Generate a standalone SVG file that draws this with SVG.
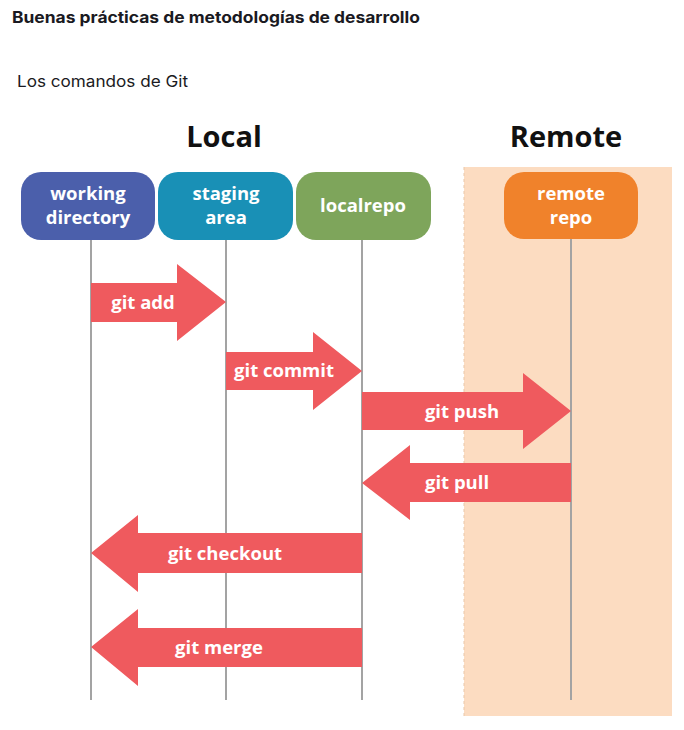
<svg xmlns="http://www.w3.org/2000/svg" width="684" height="730" viewBox="0 0 684 730">
<style>
.hdr{font-family:Inter,"Noto Sans",sans-serif;fill:#1a1a22}
.title{font-family:"Open Sans","Noto Sans",sans-serif;font-weight:700;font-size:29px;fill:#111;text-anchor:middle}
.nt{font-family:"Open Sans","Noto Sans",sans-serif;font-weight:700;font-size:18.5px;fill:#fff;text-anchor:middle}
.at{font-family:"Open Sans","Noto Sans",sans-serif;font-weight:700;font-size:18.5px;fill:#fff;text-anchor:middle}
.lane{stroke:#a3a3a3;stroke-width:2;fill:none}
.arr{fill:#ef5a5e}
</style>
<rect width="684" height="730" fill="#fff"/>
<text class="hdr" x="12" y="23" font-size="16" font-weight="700" textLength="408" lengthAdjust="spacingAndGlyphs">Buenas prácticas de metodologías de desarrollo</text>
<text class="hdr" x="17" y="87" font-size="16" font-weight="400" textLength="171" lengthAdjust="spacingAndGlyphs">Los comandos de Git</text>

<g id="remote-zone">
<rect x="464" y="167" width="208" height="549" fill="#fcdcc1"/>
<line x1="464" y1="167" x2="464" y2="716" stroke="#e9c7a9" stroke-width="1" stroke-dasharray="3,3"/>
</g>
<text class="title" x="224" y="147">Local</text>
<text class="title" x="566" y="147">Remote</text>

<g id="connectors">
<line class="lane" x1="91" y1="240" x2="91" y2="700"/>
<line class="lane" x1="226" y1="240" x2="226" y2="700"/>
<line class="lane" x1="362" y1="240" x2="362" y2="700"/>
<line class="lane" x1="571" y1="239" x2="571" y2="700"/>
</g>

<g id="working-directory">
<rect x="21" y="172" width="134" height="68" rx="20" fill="#4b5fab"/>
<text class="nt" x="88" y="200">working</text>
<text class="nt" x="88" y="224">directory</text>
</g>
<g id="staging-area">
<rect x="158" y="172" width="135" height="68" rx="20" fill="#1990b6"/>
<text class="nt" x="226" y="200">staging</text>
<text class="nt" x="226" y="224">area</text>
</g>
<g id="localrepo">
<rect x="296" y="172" width="135" height="68" rx="20" fill="#7ea55b"/>
<text class="nt" x="363" y="212">localrepo</text>
</g>
<g id="remote-repo">
<rect x="504" y="172" width="134" height="67" rx="20" fill="#f0822b"/>
<text class="nt" x="571" y="200">remote</text>
<text class="nt" x="571" y="224">repo</text>
</g>

<g id="git-add">
<polygon class="arr" points="91,283 177,283 177,264 226,302 177,341 177,322 91,322"/>
<text class="at" x="143" y="309">git add</text>
</g>
<g id="git-commit">
<polygon class="arr" points="226,352 313,352 313,332 362,371 313,410 313,390 226,390"/>
<text class="at" x="284" y="377">git commit</text>
</g>
<g id="git-push">
<polygon class="arr" points="362,392 523,392 523,373 571,411 523,449 523,430 362,430"/>
<text class="at" x="462" y="418">git push</text>
</g>
<g id="git-pull">
<polygon class="arr" points="571,463 410,463 410,445 362,483 410,520 410,502 571,502"/>
<text class="at" x="457" y="489">git pull</text>
</g>
<g id="git-checkout">
<polygon class="arr" points="362,533 138,533 138,515 91,553 138,592 138,573 362,573"/>
<text class="at" x="225" y="560">git checkout</text>
</g>
<g id="git-merge">
<polygon class="arr" points="362,628 138,628 138,609 91,647 138,686 138,667 362,667"/>
<text class="at" x="219" y="654">git merge</text>
</g>
</svg>
